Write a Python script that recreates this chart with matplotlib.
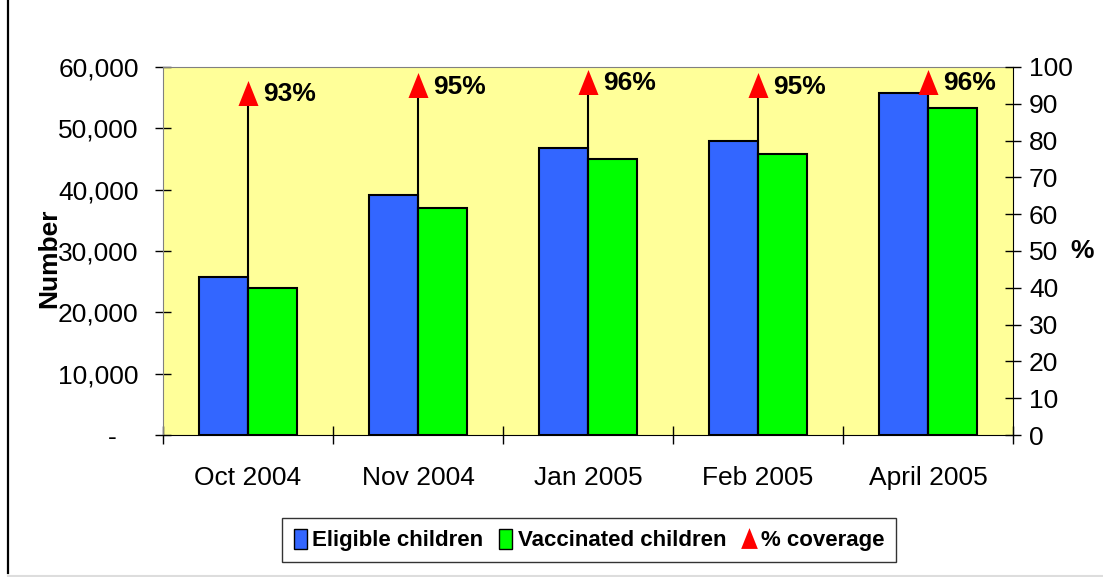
import numpy as np
import matplotlib
matplotlib.use("Agg")
import matplotlib.pyplot as plt
from matplotlib.lines import Line2D
from matplotlib.patches import Patch
from matplotlib.ticker import FuncFormatter, FixedLocator

plt.rcParams['font.family'] = ['Liberation Sans', 'DejaVu Sans']

# data
months = ['Oct 2004', 'Nov 2004', 'Jan 2005', 'Feb 2005', 'April 2005']
eligible = [25800, 39100, 46800, 47900, 55800]
vaccinated = [24000, 37000, 45000, 45800, 53300]
coverage = [93, 95, 96, 95, 96]

blue = '#3366FF'
green = '#00FF00'
yellow = '#FFFF99'

fig = plt.figure(figsize=(11.03, 5.77), dpi=100)
ax = fig.add_axes([0.1478, 0.2461, 0.7706, 0.6378])
ax.set_facecolor(yellow)

x = np.arange(len(months)) + 0.5
w = 0.288
ax.bar(x - w / 2, eligible, w, color=blue, edgecolor='black', linewidth=1.5, zorder=3)
ax.bar(x + w / 2, vaccinated, w, color=green, edgecolor='black', linewidth=1.5, zorder=3)

ax.set_xlim(0, len(months))
ax.set_ylim(0, 60000)
ax.yaxis.set_major_locator(FixedLocator(np.arange(0, 60001, 10000)))
ax.yaxis.set_major_formatter(FuncFormatter(lambda v, p: '-   ' if v == 0 else f'{int(v):,}'))
ax.set_xticks(np.arange(len(months) + 1))
ax.set_xticklabels([])
ax.set_xticks(x, minor=True)
ax.set_xticklabels(months, minor=True)
ax.tick_params(axis='x', which='major', direction='inout', length=13, width=1, color='black')
ax.tick_params(axis='x', which='minor', length=0, pad=22, labelsize=19)
ax.tick_params(axis='y', direction='inout', length=11, width=1, pad=12, labelsize=19)

for s in ['top', 'left']:
    ax.spines[s].set_color('#808080')
ax.spines['bottom'].set_color('black')
ax.spines['right'].set_visible(False)

ax2 = ax.twinx()
ax2.set_ylim(0, 100)
ax2.yaxis.set_major_locator(FixedLocator(np.arange(0, 101, 10)))
ax2.tick_params(axis='y', direction='inout', length=11, width=1, pad=6, labelsize=19)
for s in ['top', 'left', 'bottom']:
    ax2.spines[s].set_visible(False)
ax2.spines['right'].set_color('black')

# drop lines + triangles
tri = [(-0.8, -1), (0.8, -1), (0, 1)]
ax2.vlines(x, 0, coverage, color='black', linewidth=1.5, zorder=2)
ax2.plot(x, coverage, linestyle='none', marker=tri, markersize=18,
         color='red', markeredgewidth=0, zorder=5)
ax.set_zorder(1)
ax2.set_zorder(2)
ax2.patch.set_visible(False)
for xi, c in zip(x, coverage):
    ax2.annotate(f'{c}%', (xi, c), xytext=(11, -1), textcoords='offset points',
                 ha='left', va='center', fontsize=19, fontweight='bold')

fig.text(49 / 1103, 1 - 258 / 577, 'Number', rotation=90,
         ha='center', va='center', fontsize=19, fontweight='bold')
fig.text(1082 / 1103, 1 - 251 / 577, '%', ha='center', va='center',
         fontsize=19, fontweight='bold')

handles = [Patch(facecolor=blue, edgecolor='black', linewidth=1),
           Patch(facecolor=green, edgecolor='black', linewidth=1),
           Line2D([], [], linestyle='none', marker=tri, markersize=15, color='red',
                  markeredgewidth=0)]
leg = fig.legend(handles, ['Eligible children', 'Vaccinated children', '% coverage'],
                 loc='center', bbox_to_anchor=(589 / 1103, 1 - 540 / 577), ncol=3,
                 prop={'size': 16, 'weight': 'bold'}, frameon=True, fancybox=False,
                 handlelength=0.6, handleheight=1.0, handletextpad=0.25,
                 columnspacing=0.7, borderpad=0.5, borderaxespad=0)
leg.get_frame().set_edgecolor('black')
leg.get_frame().set_linewidth(1)

# outer chart frame (partly clipped in the reference)
fig.add_artist(Line2D([8 / 1103, 8 / 1103], [1 - 573 / 577, 1], transform=fig.transFigure,
                      color='black', linewidth=1.6))
fig.add_artist(Line2D([8 / 1103, 1], [1 - 575.5 / 577] * 2, transform=fig.transFigure,
                      color='#DDDDDD', linewidth=1.5))

fig.savefig('out.png', dpi=100)
